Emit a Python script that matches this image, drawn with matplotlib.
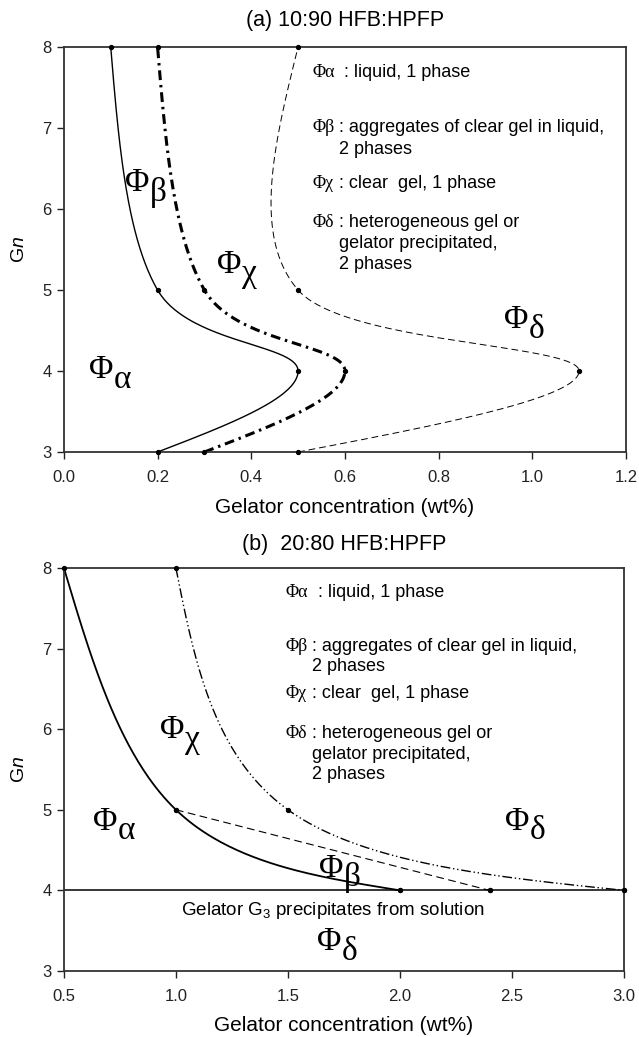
import numpy as np
import matplotlib.pyplot as plt

plt.rcParams['font.family'] = ['Liberation Sans', 'DejaVu Sans']
plt.rcParams['mathtext.fontset'] = 'custom'
plt.rcParams['mathtext.rm'] = 'Liberation Sans'
plt.rcParams['mathtext.it'] = 'Liberation Sans:italic'
plt.rcParams['mathtext.sf'] = 'Liberation Sans'

### panel (a): phase boundaries, 10:90 HFB:HPFP
a_gn = [3, 4, 5, 8]
a_alpha_beta = [0.2, 0.5, 0.2, 0.1]
a_beta_chi = [0.3, 0.6, 0.3, 0.2]
a_chi_delta = [0.5, 1.1, 0.5, 0.5]
a_xticks = [0.0, 0.2, 0.4, 0.6, 0.8, 1.0, 1.2]

### panel (b): phase boundaries, 20:80 HFB:HPFP
b_alpha_x = [0.5, 1.0, 2.0]
b_alpha_gn = [8, 5, 4]
b_beta_x = [1.0, 2.4]
b_beta_gn = [5, 4]
b_chi_x = [1.0, 1.5, 3.0]
b_chi_gn = [8, 5, 4]
b_floor_x = [0.5, 3.0]
b_floor_gn = [4, 4]
b_floor_pts = [2.0, 2.4, 3.0]
b_xticks = [0.5, 1.0, 1.5, 2.0, 2.5, 3.0]

gn_ticks = [3, 4, 5, 6, 7, 8]

key_greek = ['α', 'β', 'χ', 'δ']
key_text = [[': liquid, 1 phase'],
            [': aggregates of clear gel in liquid,', '2 phases'],
            [': clear  gel, 1 phase'],
            [': heterogeneous gel or', 'gelator precipitated,', '2 phases']]

SERIF = 'Liberation Serif'


def spline(xs, ys, n=80):
    # catmull-rom through the points, natural end tangents
    P = np.column_stack([xs, ys]).astype(float)
    if len(P) == 2:
        s = np.linspace(0, 1, n)[:, None]
        seg = P[0] + s * (P[1] - P[0])
        return seg[:, 0], seg[:, 1]
    T = np.zeros_like(P)
    T[1:-1] = (P[2:] - P[:-2]) / 2
    T[0] = (3 * (P[1] - P[0]) - T[1]) / 2
    T[-1] = (3 * (P[-1] - P[-2]) - T[-2]) / 2
    s = np.linspace(0, 1, n)[:, None]
    h00 = 2 * s**3 - 3 * s**2 + 1
    h10 = s**3 - 2 * s**2 + s
    h01 = -2 * s**3 + 3 * s**2
    h11 = s**3 - s**2
    out = []
    for i in range(len(P) - 1):
        out.append(h00 * P[i] + h10 * T[i] + h01 * P[i + 1] + h11 * T[i + 1])
    out = np.vstack(out)
    return out[:, 0], out[:, 1]


def boundary(ax, xs, ys, **kw):
    cx, cy = spline(xs, ys)
    ax.plot(cx, cy, color='black', clip_on=False, **kw)
    ax.plot(xs, ys, 'o', ms=2.8, color='black', clip_on=False, zorder=5)


def phase(ax, x, y, letter, size=24):
    ax.text(x, y, 'Φ', family=SERIF, fontsize=size, va='center', ha='left')
    ax.annotate(letter, (x, y), xytext=(size * 0.74, -size * 0.28),
                textcoords='offset points', family=SERIF, fontsize=size,
                va='center', ha='left')


def key(ax, x, ys, colon_dx):
    for g, lines, yl, dx in zip(key_greek, key_text, ys, colon_dx):
        ax.text(x, yl[0], 'Φ' + g, family=SERIF, fontsize=13, va='center')
        ax.annotate(lines[0], (x, yl[0]), xytext=(dx, 0), textcoords='offset points',
                    fontsize=13, va='center')
        for line, yy in zip(lines[1:], yl[1:]):
            ax.annotate(line, (x, yy), xytext=(19, 0), textcoords='offset points',
                        fontsize=13, va='center')


def style(ax, xlim, xticks):
    ax.set_xlim(*xlim)
    ax.set_ylim(3, 8)
    ax.set_xticks(xticks)
    ax.set_xticklabels(['%.1f' % t for t in xticks])
    ax.set_yticks(gn_ticks)
    ax.tick_params(direction='out', length=5, width=1, labelsize=12,
                   colors='#222', pad=4)
    ax.tick_params(axis='x', pad=8)
    for sp in ax.spines.values():
        sp.set_linewidth(1.3)
        sp.set_color('#333')
    ax.set_ylabel(r'G$\mathit{n}$', fontsize=14, labelpad=10)
    ax.set_xlabel('Gelator concentration (wt%)', fontsize=15, labelpad=9)


fig = plt.figure(figsize=(6.39, 10.37), dpi=100)

# (a)
ax1 = fig.add_axes([0.100, 0.5641, 0.8795, 0.3906])
boundary(ax1, a_alpha_beta, a_gn, lw=1.0)
boundary(ax1, a_beta_chi, a_gn, lw=2.2, linestyle=(0, (3.2, 1.6, 0.8, 1.6)))
boundary(ax1, a_chi_delta, a_gn, lw=0.7, linestyle=(0, (7, 4)))
style(ax1, (0, 1.2), a_xticks)
ax1.set_title('(a) 10:90 HFB:HPFP', fontsize=15.5, pad=15)
phase(ax1, 0.13, 6.32, 'β')
phase(ax1, 0.327, 5.31, 'χ')
phase(ax1, 0.053, 4.01, 'α')
phase(ax1, 0.94, 4.63, 'δ')
key(ax1, 0.53,
    [[7.68], [7.0, 6.74], [6.31], [5.83, 5.57, 5.32]],
    [23, 19, 19, 19])

# (b)
ax2 = fig.add_axes([0.100, 0.0637, 0.8764, 0.3886])
ax2.plot(b_floor_x, b_floor_gn, color='black', lw=1.1)
ax2.plot(b_floor_pts, [4] * len(b_floor_pts), 'o', ms=2.8, color='black', clip_on=False, zorder=5)
boundary(ax2, b_alpha_x, b_alpha_gn, lw=1.3)
boundary(ax2, b_beta_x, b_beta_gn, lw=0.8, linestyle=(0, (7, 4)))
boundary(ax2, b_chi_x, b_chi_gn, lw=1.0, linestyle=(0, (7, 2, 1, 2, 1, 2)))
style(ax2, (0.5, 3.0), b_xticks)
ax2.set_title('(b)  20:80 HFB:HPFP', fontsize=15.5, pad=13)
phase(ax2, 0.93, 5.99, 'χ')
phase(ax2, 0.63, 4.85, 'α')
phase(ax2, 1.64, 4.27, 'β')
phase(ax2, 2.47, 4.85, 'δ')
phase(ax2, 1.63, 3.36, 'δ')
ax2.text(1.70, 3.75, r'Gelator G$_{\mathsf{3}}$ precipitates from solution',
         fontsize=13.5, ha='center', va='center')
key(ax2, 1.49,
    [[7.70], [7.03, 6.78], [6.44], [5.94, 5.69, 5.44]],
    [23, 19, 19, 19])

fig.savefig('out.png', dpi=100)
